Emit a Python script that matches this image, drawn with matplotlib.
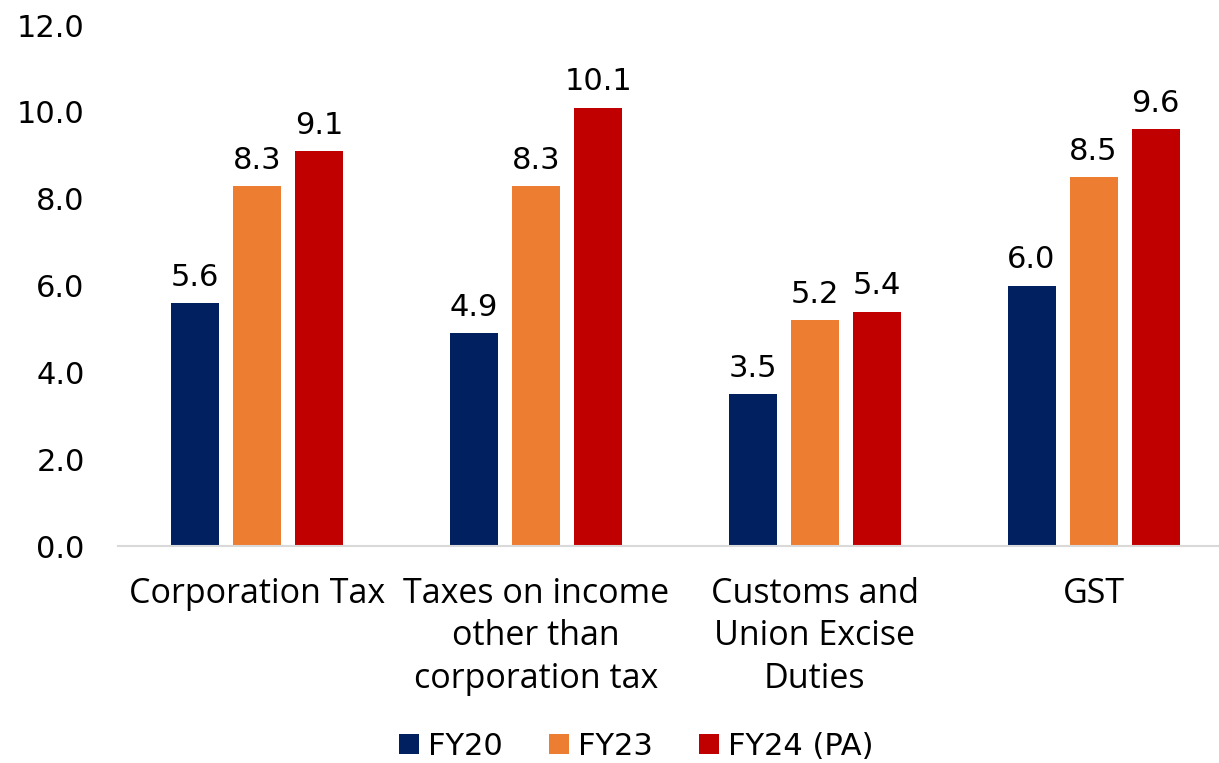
import numpy as np
import matplotlib
matplotlib.use("Agg")
from matplotlib import pyplot as plt

categories = ["Corporation Tax", "Taxes on income\nother than\ncorporation tax",
              "Customs and\nUnion Excise\nDuties", "GST"]
series_names = ["FY20", "FY23", "FY24 (PA)"]
fy20 = [5.6, 4.9, 3.5, 6.0]
fy23 = [8.3, 8.3, 5.2, 8.5]
fy24 = [9.1, 10.1, 5.4, 9.6]
colors = ["#002060", "#ED7D31", "#C00000"]

fig = plt.figure(figsize=(12.19, 7.63), dpi=100)
ax = fig.add_axes([0.0968, 0.2844, 0.9032, 0.6828])

x = np.arange(len(categories))
width = 0.172
offset = 0.2225
for i, (vals, name) in enumerate(zip([fy20, fy23, fy24], series_names)):
    bars = ax.bar(x + (i - 1) * offset, vals, width, color=colors[i], label=name)
    for b, v in zip(bars, vals):
        ax.annotate("%.1f" % v, (b.get_x() + b.get_width() / 2, v),
                    xytext=(0, 8), textcoords="offset points",
                    ha="center", va="bottom", fontsize=22, family="DejaVu Sans")

ax.set_xlim(-0.5, 3.45)
ax.set_ylim(0, 12)
ax.set_yticks(np.arange(0, 12.1, 2))
ax.set_yticklabels(["%.1f" % t for t in np.arange(0, 12.1, 2)], fontsize=22,
                   family="DejaVu Sans")
ax.set_xticks(x)
ax.set_xticklabels(categories, fontsize=24.5, family="Open Sans", linespacing=1.33)
ax.tick_params(axis="y", length=0, pad=24)
ax.tick_params(axis="x", length=0, pad=22)
for s in ["top", "right", "left"]:
    ax.spines[s].set_visible(False)
ax.spines["bottom"].set_color("#d9d9d9")
ax.spines["bottom"].set_linewidth(1.5)

fig.legend(loc="lower center", bbox_to_anchor=(0.522, -0.033), ncol=3, frameon=False,
           prop={"family": "DejaVu Sans", "size": 22},
           handlelength=0.65, handleheight=0.65, handletextpad=0.3,
           columnspacing=1.5)

plt.savefig("out.png", dpi=100)
